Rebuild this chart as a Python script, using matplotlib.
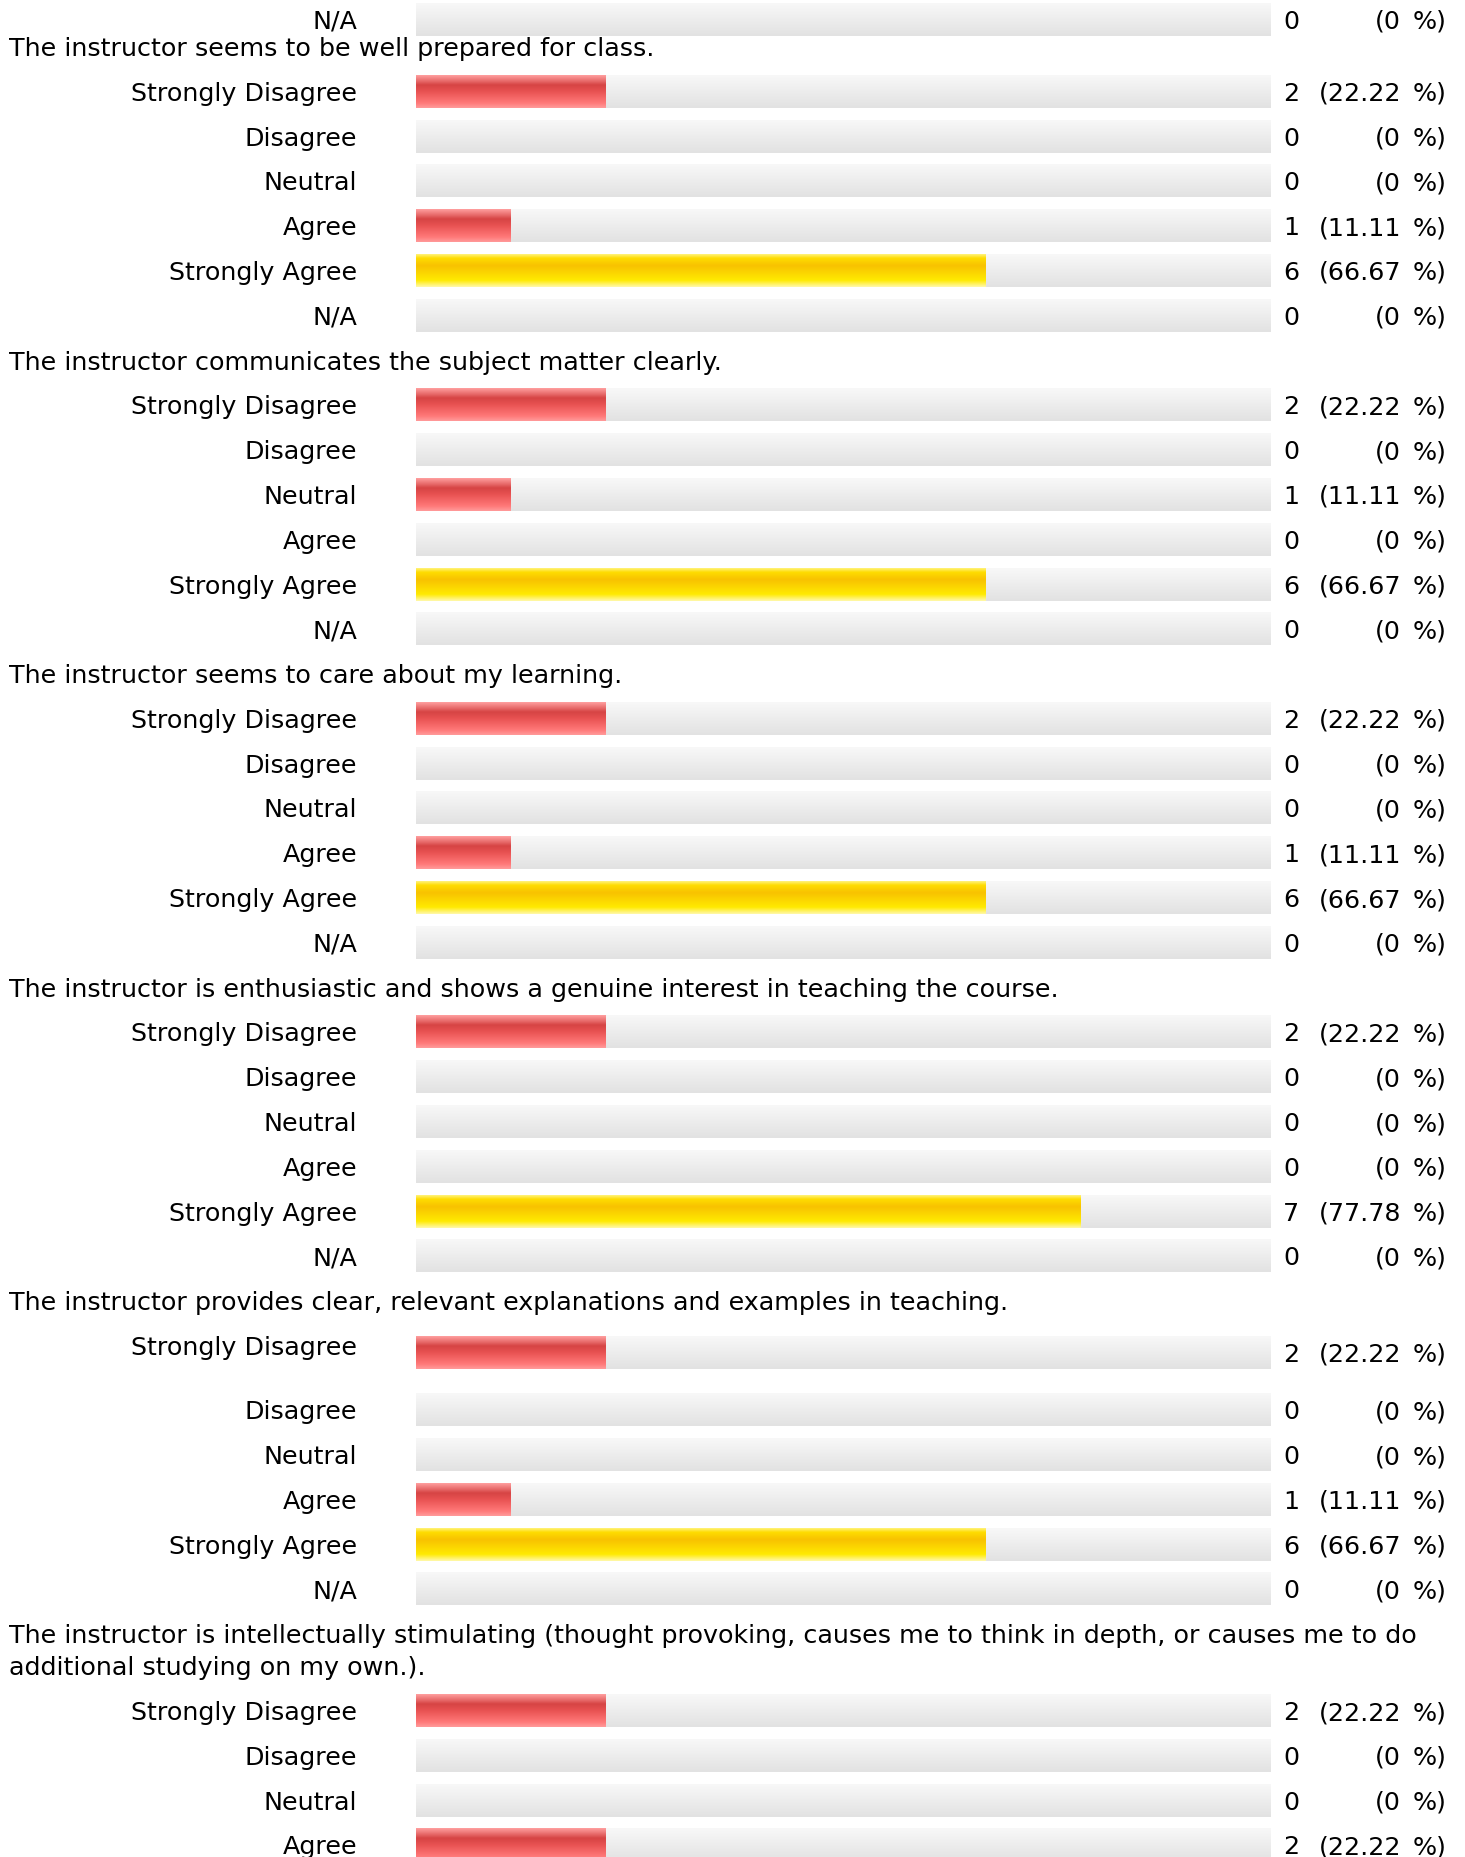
import numpy as np
import matplotlib
matplotlib.use("Agg")
from matplotlib import pyplot as plt
from matplotlib.colors import LinearSegmentedColormap

# answer options, the same for every question
categories = ["Strongly Disagree", "Disagree", "Neutral", "Agree",
              "Strongly Agree", "N/A"]

questions = [
    "The instructor seems to be well prepared for class.",
    "The instructor communicates the subject matter clearly.",
    "The instructor seems to care about my learning.",
    "The instructor is enthusiastic and shows a genuine interest in "
    "teaching the course.",
    "The instructor provides clear, relevant explanations and examples "
    "in teaching.",
    "The instructor is intellectually stimulating (thought provoking, causes "
    "me to think in depth, or causes me to do\nadditional studying on my own.).",
]

# responses per option (the last question is cut off at the bottom)
prepared = [2, 0, 0, 1, 6, 0]
communicates = [2, 0, 1, 0, 6, 0]
cares = [2, 0, 0, 1, 6, 0]
enthusiastic = [2, 0, 0, 0, 7, 0]
explanations = [2, 0, 0, 1, 6, 0]
stimulating = [2, 0, 0, 2]
counts = [prepared, communicates, cares, enthusiastic, explanations,
          stimulating]

previous_na = 0  # last row of the question above the visible part
respondents = 9

W, H = 1465, 1858
LINE = 44.8
BAR_H = 33
FS = 18.25
BASE = 8.5  # baseline below row centre, px

gray = LinearSegmentedColormap.from_list("gray", ["#f8f8f8", "#e2e2e2"])
red = LinearSegmentedColormap.from_list(
    "red", [(0, "#ff9e9e"), (0.3, "#d64444"), (0.5, "#e85252"),
            (0.85, "#ff7878"), (1, "#ff9a9a")])
yellow = LinearSegmentedColormap.from_list(
    "yellow", [(0, "#fff27a"), (0.12, "#ffdc00"), (0.35, "#f8c200"),
               (0.8, "#ffea00"), (1, "#fff8a8")])
ramp = np.linspace(0, 1, 64).reshape(-1, 1)


def shade(ax, rects, cmap):
    for r in rects:
        x0, y0 = r.get_x(), r.get_y()
        x1, y1 = x0 + r.get_width(), y0 + r.get_height()
        if x1 <= x0:
            continue
        ax.imshow(ramp, cmap=cmap, extent=(x0, x1, y1, y0), aspect="auto",
                  interpolation="bilinear", zorder=2)


fig = plt.figure(figsize=(W / 100, H / 100), dpi=100)
ax = fig.add_axes([0, 0, 1, 1])  # text, pixel coordinates
bx = fig.add_axes([416 / W, 0, 855 / W, 1])  # bars, counts on x
for a in (ax, bx):
    a.set_axis_off()


def draw_row(label, value, y, label_y=None):
    if label_y is None:
        label_y = y
    ax.text(357, label_y + BASE, label, ha="right", va="baseline",
            fontsize=FS)
    ax.text(1283, y + BASE, str(value), ha="left", va="baseline", fontsize=FS)
    pct = value / respondents * 100
    num = "(%.2f" % pct if value else "(0"
    ax.text(1401, y + BASE, num, ha="right", va="baseline", fontsize=FS)
    ax.text(1447, y + BASE, "%)", ha="right", va="baseline", fontsize=FS)
    bg = bx.barh([y], [respondents], height=BAR_H, color="none")
    shade(bx, bg, gray)
    fg = bx.barh([y], [value], height=BAR_H, color="none")
    shade(bx, fg, yellow if label == "Strongly Agree" else red)


draw_row("N/A", previous_na, 20)

y = 47.4
for qi, (question, vals) in enumerate(zip(questions, counts)):
    for k, line in enumerate(question.split("\n")):
        ax.text(9, y + BASE + 32 * k, line, ha="left", va="baseline",
                fontsize=FS)
    y += 32 * question.count("\n")
    for ri, v in enumerate(vals):
        if qi == 4 and ri == 0:
            # this row is taller, label sits a bit higher than the bar
            draw_row(categories[ri], v, y + LINE + 6.5, label_y=y + LINE)
            y += LINE + 19.4
        else:
            y += LINE
            draw_row(categories[ri], v, y)
    y += LINE

ax.set_xlim(0, W)
ax.set_ylim(H, 0)
bx.set_xlim(0, respondents)
bx.set_ylim(H, 0)

fig.savefig("out.png", dpi=100, facecolor="white")
